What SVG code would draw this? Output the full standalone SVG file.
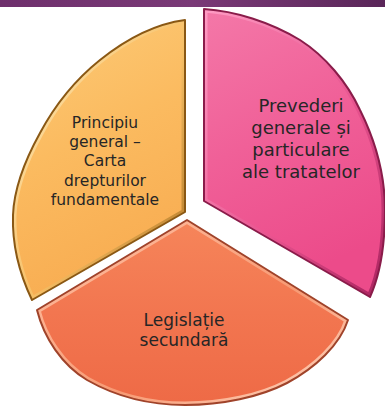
<svg xmlns="http://www.w3.org/2000/svg" width="385" height="406" viewBox="0 0 385 406">
<style>
.t{font-family:"DejaVu Sans","Liberation Sans",sans-serif;fill:#262626;text-anchor:middle}
.band{fill:none;stroke-width:7;stroke-linejoin:round}
.edge{fill:none;stroke-width:2;stroke-linejoin:round}
</style>
<defs>
<linearGradient id="bar" x1="0" y1="0" x2="1" y2="0">
<stop offset="0" stop-color="#6e2f6c"/><stop offset="0.5" stop-color="#7a3a77"/><stop offset="1" stop-color="#5a2659"/>
</linearGradient>
<linearGradient id="gy" x1="0" y1="0" x2="0.3" y2="1">
<stop offset="0" stop-color="#fccb78"/><stop offset="0.5" stop-color="#fbbb60"/><stop offset="1" stop-color="#f8ad52"/>
</linearGradient>
<linearGradient id="gp" x1="0" y1="0" x2="0.3" y2="1">
<stop offset="0" stop-color="#f478a8"/><stop offset="0.5" stop-color="#f06098"/><stop offset="1" stop-color="#ec4b8a"/>
</linearGradient>
<linearGradient id="go" x1="0" y1="0" x2="0" y2="1">
<stop offset="0" stop-color="#f6855a"/><stop offset="0.5" stop-color="#f27650"/><stop offset="1" stop-color="#ee6a46"/>
</linearGradient>
<linearGradient id="by" x1="0" y1="0" x2="1" y2="1">
<stop offset="0" stop-color="#ffefc4"/><stop offset="0.55" stop-color="#f6bf66"/><stop offset="1" stop-color="#a86c1a"/>
</linearGradient>
<linearGradient id="bp" x1="0" y1="0" x2="1" y2="1">
<stop offset="0" stop-color="#ff9cc4"/><stop offset="0.6" stop-color="#e6518d"/><stop offset="1" stop-color="#a8225e"/>
</linearGradient>
<linearGradient id="bo" x1="0" y1="0" x2="1" y2="1">
<stop offset="0" stop-color="#ffc2a6"/><stop offset="0.6" stop-color="#f79a74"/><stop offset="1" stop-color="#ffd9c4"/>
</linearGradient>
<path id="py" d="M185,212 L185,20 C155,24 125,40 100,60 C75,80 55,105 40,133 C25,160 14,190 13,215 C12,245 20,275 32,300 Z"/>
<path id="pp" d="M204,201 L204,9 C235,11 270,22 300,40 C325,56 347,82 360,110 C375,140 385,175 385,210 C385,245 380,275 370,297 Z"/>
<path id="po" d="M187,220 L348,320 C340,345 315,368 287,383 C260,397 222,405 185,405 C150,405 115,396 87,380 C62,365 44,338 37,310 Z"/>
<clipPath id="cy"><use href="#py"/></clipPath>
<clipPath id="cp"><use href="#pp"/></clipPath>
<clipPath id="co"><use href="#po"/></clipPath>
</defs>
<rect x="0" y="0" width="385" height="7" fill="url(#bar)"/>
<g id="connectors"/>
<g id="node-yellow">
<use href="#py" fill="url(#gy)"/>
<use href="#py" class="band" stroke="url(#by)" clip-path="url(#cy)"/>
<use href="#py" class="edge" stroke="#8a5814"/>
<text class="t" font-size="15.5"><tspan x="105" y="128">Principiu</tspan><tspan x="105" y="147">general –</tspan><tspan x="105" y="166">Carta</tspan><tspan x="105" y="186">drepturilor</tspan><tspan x="105" y="205">fundamentale</tspan></text>
</g>
<g id="node-pink">
<use href="#pp" fill="url(#gp)"/>
<use href="#pp" class="band" stroke="url(#bp)" clip-path="url(#cp)"/>
<use href="#pp" class="edge" stroke="#8a1c4a"/>
<text class="t" font-size="18"><tspan x="301" y="112">Prevederi</tspan><tspan x="301" y="134">generale și</tspan><tspan x="301" y="156">particulare</tspan><tspan x="301" y="178">ale tratatelor</tspan></text>
</g>
<g id="node-orange">
<use href="#po" fill="url(#go)"/>
<use href="#po" class="band" stroke="url(#bo)" clip-path="url(#co)"/>
<use href="#po" class="edge" stroke="#a0432a"/>
<text class="t" font-size="17"><tspan x="184" y="326">Legislație</tspan><tspan x="184" y="346">secundară</tspan></text>
</g>
</svg>
